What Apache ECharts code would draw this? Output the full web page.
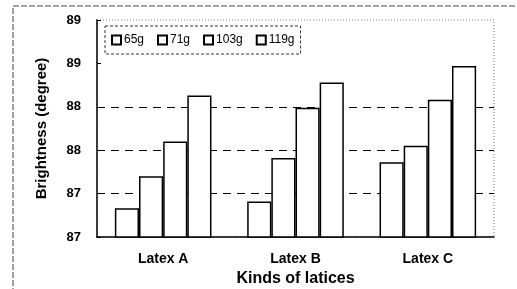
<!DOCTYPE html>
<html lang="en" style="height: 100%">
<head>
  <meta charset="utf-8">
  <title>Brightness of latices</title>
</head>
<body style="height: 100%; margin: 0; background: #fff">
  <div id="container" style="width: 517px; height: 289px"></div>
  <script type="text/javascript" src="https://fastly.jsdelivr.net/npm/echarts@6.0.0/dist/echarts.min.js"></script>
  <script type="text/javascript">
    var categories = ['Latex A', 'Latex B', 'Latex C'];
    var seriesNames = ['65g', '71g', '103g', '119g'];
    var g65 = [86.83, 86.91, 87.36];
    var g71 = [87.20, 87.41, 87.55];
    var g103 = [87.60, 87.99, 88.08];
    var g119 = [88.13, 88.28, 88.47];
    // the original axis rounds its 0.5 steps to whole degrees
    var yTickLabels = ['87', '87', '88', '88', '89', '89'];

    var font = 'Arial, "Liberation Sans", sans-serif';
    var dom = document.getElementById('container');
    var myChart = echarts.init(dom, null, { renderer: 'canvas' });

    var values = [g65, g71, g103, g119];
    var series = seriesNames.map(function (name, i) {
      return {
        name: name,
        type: 'bar',
        data: values[i],
        barGap: '0%',
        barCategoryGap: '27%',
        itemStyle: { color: '#fff', borderColor: '#000', borderWidth: 1.5 }
      };
    });

    var option = {
      animation: false,
      backgroundColor: '#fff',
      textStyle: { fontFamily: font },
      graphic: [{
        type: 'rect',
        shape: { x: 13, y: 6, width: 540, height: 340 },
        style: { fill: 'none', stroke: '#444', lineWidth: 1, lineDash: [6, 2] },
        silent: true
      }],
      grid: {
        left: 97, right: 23, top: 20, bottom: 52,
        outerBoundsMode: 'none',
        show: true,
        borderColor: '#777',
        borderWidth: 1,
        borderType: [1, 2]
      },
      legend: {
        left: 105,
        top: 26,
        orient: 'horizontal',
        itemWidth: 9,
        itemHeight: 9,
        itemGap: 13,
        padding: [8, 6, 8, 6],
        borderColor: '#333',
        borderWidth: 1,
        borderType: [3, 2],
        icon: 'rect',
        textStyle: { fontFamily: font, fontSize: 12, color: '#000', padding: [0, 0, 0, -2] },
        data: seriesNames
      },
      xAxis: {
        type: 'category',
        data: categories,
        name: 'Kinds of latices',
        nameLocation: 'middle',
        nameGap: 31,
        nameTextStyle: { fontFamily: font, fontSize: 16, fontWeight: 'bold', color: '#000' },
        axisLine: { lineStyle: { color: '#000', width: 1.5 } },
        axisTick: { inside: true, length: 4, lineStyle: { color: '#000' } },
        axisLabel: { margin: 15, fontFamily: font, fontSize: 14, fontWeight: 'bold', color: '#000' }
      },
      yAxis: {
        type: 'value',
        min: 86.5,
        max: 89,
        interval: 0.5,
        name: 'Brightness (degree)',
        nameLocation: 'middle',
        nameGap: 48,
        nameTextStyle: { fontFamily: font, fontSize: 15, fontWeight: 'bold', color: '#000' },
        axisLine: { show: true, lineStyle: { color: '#000', width: 1.5 } },
        axisTick: { show: true, inside: true, length: 4, lineStyle: { color: '#000' } },
        axisLabel: {
          margin: 16,
          fontFamily: font,
          fontSize: 13,
          fontWeight: 'bold',
          color: '#000',
          formatter: function (v) {
            return yTickLabels[Math.round((v - 86.5) / 0.5)];
          }
        },
        splitLine: {
          show: true,
          lineStyle: {
            color: ['transparent', '#000', '#000', '#000', 'transparent', 'transparent'],
            type: [8, 6],
            width: 1
          }
        }
      },
      series: series
    };

    myChart.setOption(option);
    window.addEventListener('resize', myChart.resize);
  </script>
</body>
</html>
